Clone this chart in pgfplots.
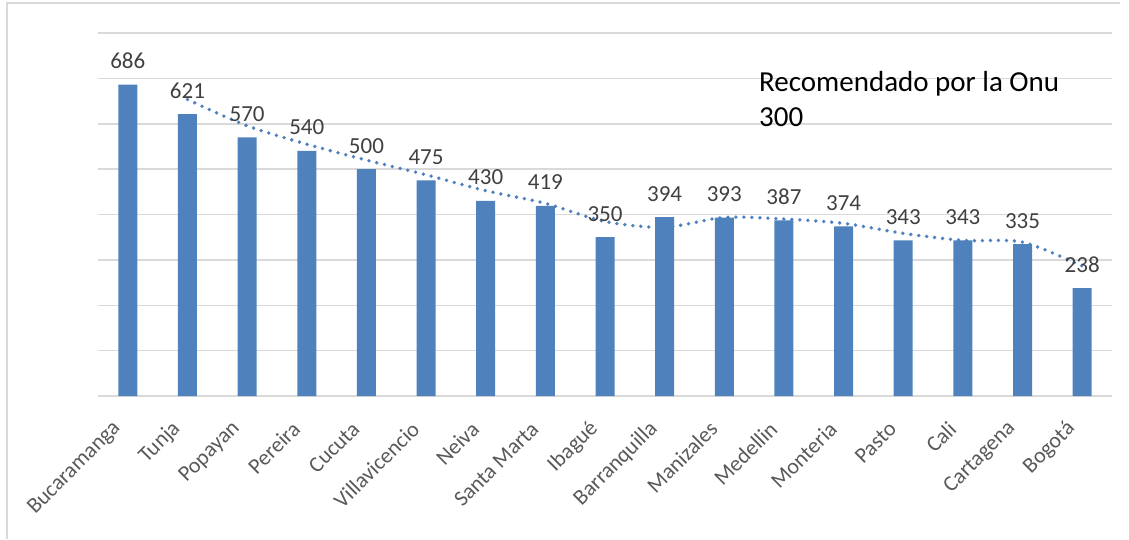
\documentclass[border=0pt]{standalone}
\usepackage{pgfplots}
\pgfplotsset{compat=1.18}
\usepackage{fontspec}
\setmainfont{Carlito}
\definecolor{barblue}{RGB}{79,129,189}
\definecolor{gridgray}{RGB}{217,217,217}
\definecolor{lblgray}{RGB}{64,64,64}
\definecolor{tickgray}{RGB}{89,89,89}
\begin{document}
\begin{tikzpicture}[x=1pt,y=1pt]
\useasboundingbox (0,0) rectangle (1129,539);
\draw[gridgray, line width=1.5pt] (7,0) -- (7,536) -- (1120,536);
\begin{axis}[
  at={(98pt,143pt)}, anchor=south west,
  scale only axis, width=1014pt, height=363pt,
  xmin=-0.5, xmax=16.5, ymin=0, ymax=800,
  axis line style={draw=none},
  ytick={0,100,...,800}, yticklabels={},
  ymajorgrids, major grid style={gridgray, line width=1.5pt},
  major tick length=0pt,
  xtick={0,...,16},
  xticklabels={Bucaramanga,Tunja,Popayan,Pereira,Cucuta,Villavicencio,Neiva,Santa Marta,Ibagué,Barranquilla,Manizales,Medellin,Monteria,Pasto,Cali,Cartagena,Bogotá},
  x tick label style={xshift=-9pt, yshift=-28pt, rotate=45, anchor=east, font=\fontsize{22}{22}\selectfont, text=tickgray, inner sep=2pt},
  /pgf/number format/assume math mode=true,
  clip=false,
]
\addplot[ybar, bar width=19pt, fill=barblue, draw=none,
  nodes near coords,
  every node near coord/.append style={anchor=base, inner sep=0pt, yshift=16pt, font=\fontsize{23}{23}\selectfont, text=lblgray}]
  coordinates {(0,686) (1,621) (2,570) (3,540) (4,500) (5,475) (6,430) (7,419) (8,350) (9,394) (10,393) (11,387) (12,374) (13,343) (14,343) (15,335) (16,238)};
\addplot[barblue, line width=3.8pt, dash pattern=on 0pt off 8pt, line cap=round, smooth, tension=0.5]
  coordinates {(1,653.5) (2,595.5) (3,555) (4,520) (5,487.5) (6,452.5) (7,424.5) (8,384.5) (9,372) (10,393.5) (11,390) (12,380.5) (13,358.5) (14,343) (15,339) (16,286.5)};
\end{axis}
\node[anchor=base west, inner sep=0pt, font=\fontsize{29}{33}\selectfont] at (759,447) {Recomendado por la Onu};
\node[anchor=base west, inner sep=0pt, font=\fontsize{29}{33}\selectfont] at (759,412) {300};
\end{tikzpicture}
\end{document}
